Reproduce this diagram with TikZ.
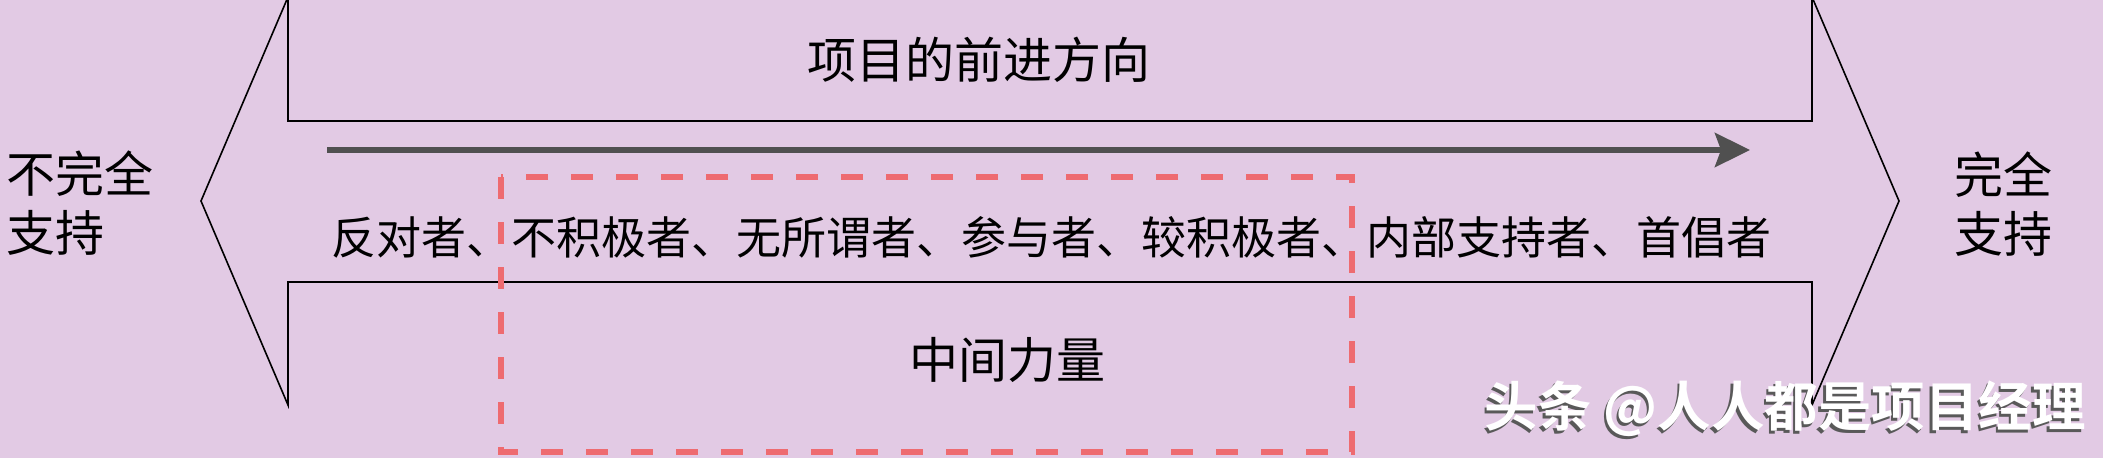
\documentclass[tikz,border=0pt]{standalone}
\usepackage{fontspec}
\setmainfont{Noto Sans CJK SC}
\newfontfamily\cjkb{Noto Sans CJK SC Bold}
\usetikzlibrary{arrows.meta}
\definecolor{bgpurple}{RGB}{226,202,228}
\definecolor{dashred}{RGB}{238,107,112}
\definecolor{arrowgray}{RGB}{80,80,80}
\begin{document}
\begin{tikzpicture}[x=1pt,y=-1pt,
  outline/.style={draw=black,line width=1.6pt,line join=miter},
  bigtext/.style={font=\fontsize{49}{59}\selectfont,inner sep=0pt},
  midtext/.style={font=\fontsize{45}{52}\selectfont,inner sep=0pt},
  dashbox/.style={draw=dashred,line width=6pt,dash pattern=on 22pt off 23pt},
  progress/.style={draw=arrowgray,line width=6pt,-{Stealth[length=35pt,width=34pt,inset=6pt]}},
  wmark/.style={font=\cjkb\fontsize{53.5}{60}\selectfont,inner sep=0pt}]
\fill[bgpurple] (0,0) rectangle (2103,458);
\useasboundingbox (0,0) rectangle (2103,458);
% double arrow outline
\draw[outline] (201,201) -- (288,-3) -- (288,121) -- (1812,121) -- (1812,-3)
  -- (1899,201) -- (1812,405) -- (1812,282) -- (288,282) -- (288,405) -- cycle;
% progress arrow
\coordinate (pstart) at (327,150);
\coordinate (pend) at (1750,150);
\draw[progress] (pstart) -- (pend);
% texts
\node[bigtext] (title) at (979,60) {项目的前进方向};
\node[midtext,anchor=west] (roles) at (331,237) {反对者、不积极者、无所谓者、参与者、较积极者、内部支持者、首倡者};
\node[bigtext] (middle) at (1007,360) {中间力量};
\node[bigtext,align=left,anchor=west] (leftlbl) at (6,203) {不完全\\支持};
\node[bigtext,align=left,anchor=west] (rightlbl) at (1954,204) {完全\\支持};
% dashed box
\draw[dashbox] (501,177) rectangle (1352,452);
% watermark
\node[wmark,text=black!65] (wmshadow) at (1782.5,411.5) {头条 @人人都是项目经理};
\node[wmark,text=white] (wm) at (1785,409) {头条 @人人都是项目经理};
\end{tikzpicture}
\end{document}
